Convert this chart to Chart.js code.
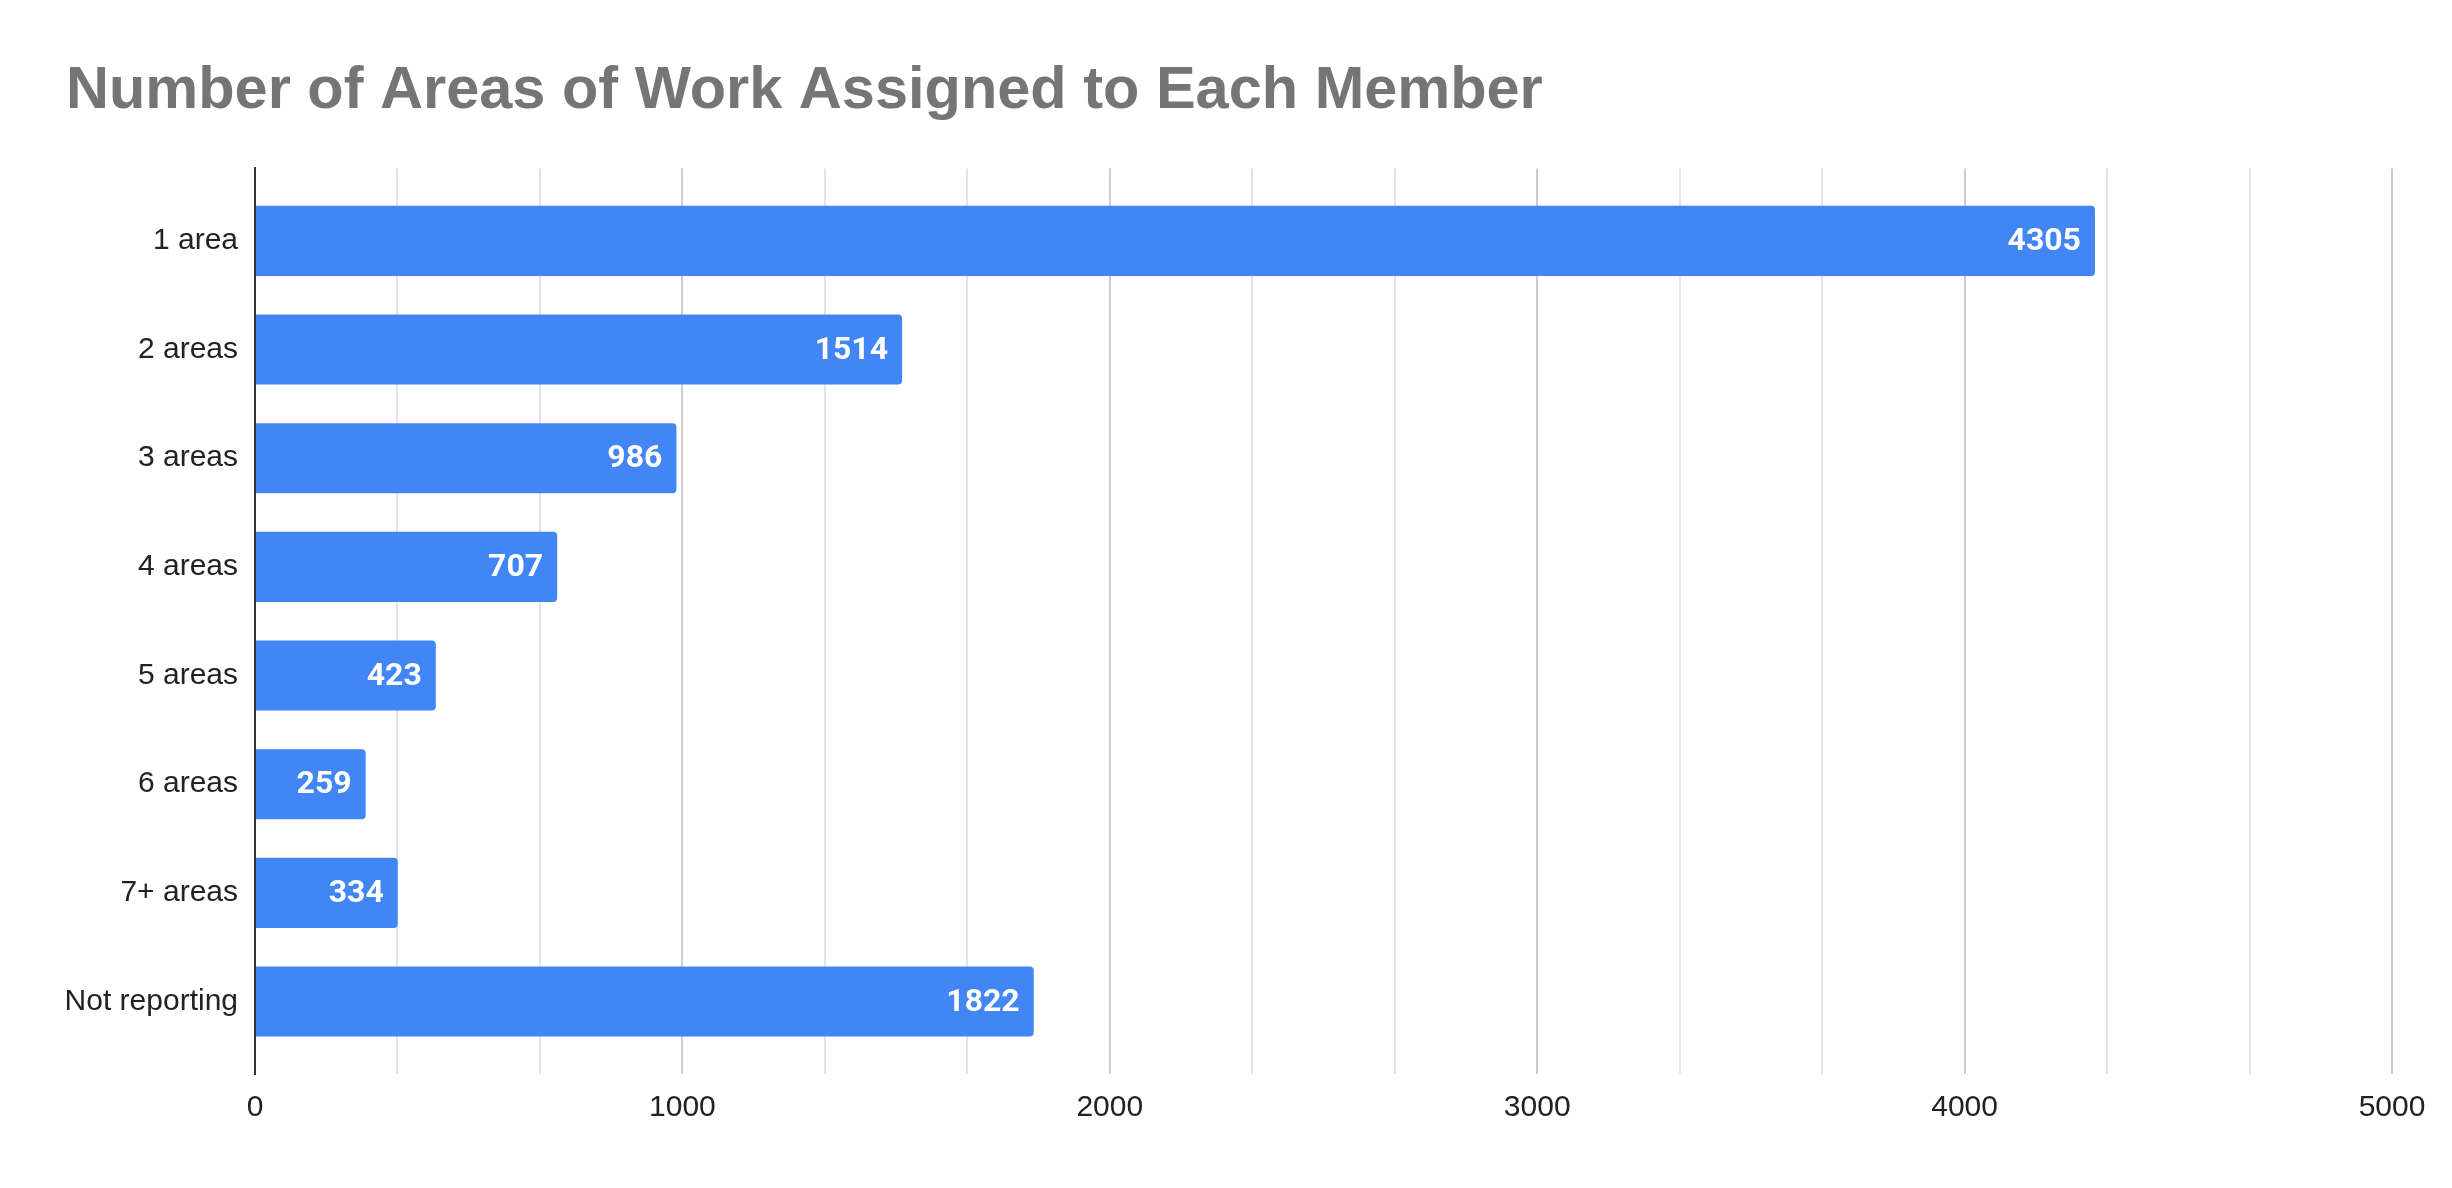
<!DOCTYPE html>
<html>
<head>
<meta charset="utf-8">
<script src="https://cdn.jsdelivr.net/npm/chart.js@4.4.1/dist/chart.umd.min.js"></script>
<style>
  html, body { margin: 0; padding: 0; background: #fff; }
  #wrap { width: 2452px; height: 1188px; }
</style>
</head>
<body>
<div id="wrap"><canvas id="areasChart" width="2452" height="1188"></canvas></div>
<script>
const categories = ["1 area", "2 areas", "3 areas", "4 areas", "5 areas", "6 areas", "7+ areas", "Not reporting"];
const memberCounts = [4305, 1514, 986, 707, 423, 259, 334, 1822];
const xTickValues = [0, 1000, 2000, 3000, 4000, 5000];
const minorSteps = 3; // light gridlines between labelled ones

const axisFont = { family: "'Liberation Sans', Arial, sans-serif", size: 30 };

// white value labels at the inner end of each bar
const barValueLabels = {
  id: "barValueLabels",
  afterDatasetsDraw(chart) {
    const { ctx } = chart;
    const meta = chart.getDatasetMeta(0);
    ctx.save();
    ctx.fillStyle = "#ffffff";
    ctx.font = "bold 32px Roboto, 'Liberation Sans', sans-serif";
    ctx.textAlign = "right";
    ctx.textBaseline = "middle";
    meta.data.forEach((bar, i) => {
      ctx.fillText(String(memberCounts[i]), bar.x - 14, bar.y + 1);
    });
    ctx.restore();
  }
};

new Chart(document.getElementById("areasChart"), {
  type: "bar",
  data: {
    datasets: [
      {
        data: memberCounts.map((v, i) => ({ x: v, y: i })),
        backgroundColor: "#4285f4",
        borderRadius: 4,
        borderSkipped: "start",
        categoryPercentage: 1,
        barPercentage: 0.645
      }
    ]
  },
  options: {
    indexAxis: "y",
    responsive: false,
    animation: false,
    layout: { padding: { left: 66, right: 60, top: 0, bottom: 46 } },
    plugins: {
      legend: { display: false },
      tooltip: { enabled: false },
      title: {
        display: true,
        text: "Number of Areas of Work Assigned to Each Member",
        align: "start",
        color: "#757575",
        font: { family: "'Liberation Sans', Arial, sans-serif", size: 59.5, weight: "bold" },
        padding: { top: 56, bottom: 41 }
      }
    },
    scales: {
      x: {
        type: "linear",
        min: xTickValues[0],
        max: xTickValues[xTickValues.length - 1],
        afterBuildTicks(scale) {
          const ticks = [];
          for (let i = 0; i < xTickValues.length - 1; i++) {
            const step = (xTickValues[i + 1] - xTickValues[i]) / minorSteps;
            for (let k = 0; k < minorSteps; k++) {
              ticks.push({ value: xTickValues[i] + step * k, main: k === 0 });
            }
          }
          ticks.push({ value: xTickValues[xTickValues.length - 1], main: true });
          scale.ticks = ticks;
        },
        grid: {
          drawTicks: false,
          lineWidth: 2,
          color: (c) => (c.tick && c.tick.main ? "#cccccc" : "#e4e4e4")
        },
        border: { display: false },
        ticks: {
          autoSkip: false,
          maxRotation: 0,
          padding: 16,
          color: "#222222",
          font: axisFont,
          callback: (value, index, ticks) => (ticks[index].main ? String(Math.round(value)) : "")
        }
      },
      y: {
        type: "linear",
        reverse: true,
        offset: false,
        bounds: "data",
        min: -0.667,
        max: categories.length - 1 + 0.667,
        afterBuildTicks(scale) {
          scale.ticks = categories.map((c, i) => ({ value: i }));
        },
        afterFit(scale) {
          scale.width = 189;
        },
        grid: { display: false, drawTicks: false, offset: false },
        border: { color: "#333333", width: 2 },
        ticks: {
          autoSkip: false,
          padding: 17,
          color: "#222222",
          font: axisFont,
          callback: (value) => categories[value]
        }
      }
    }
  },
  plugins: [barValueLabels]
});
</script>
</body>
</html>
